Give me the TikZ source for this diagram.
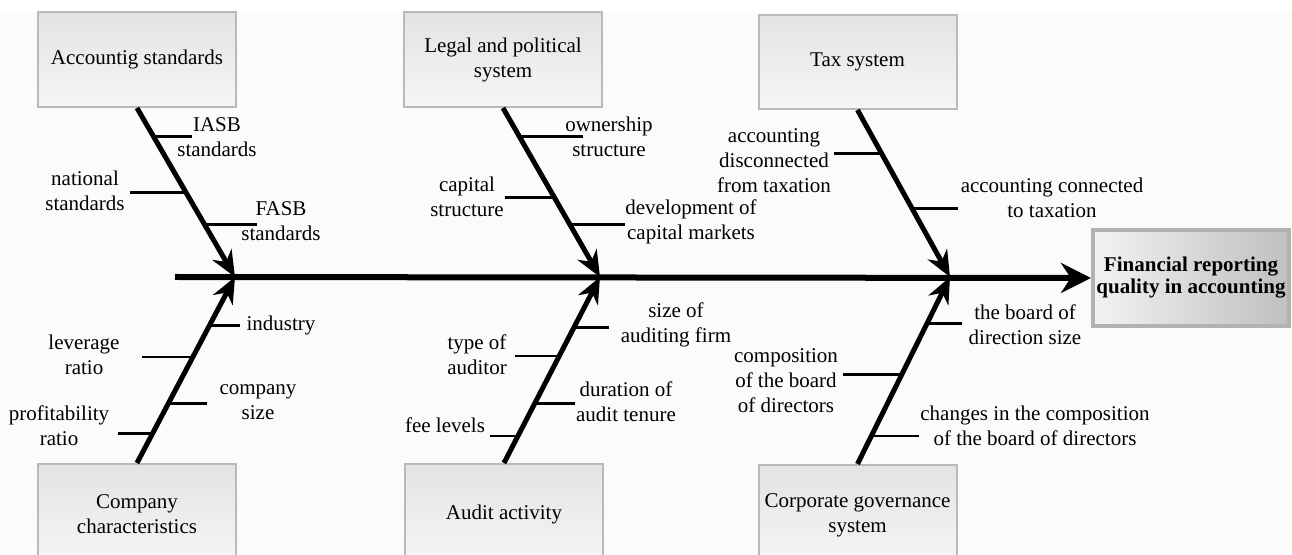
\documentclass[tikz,border=0pt]{standalone}
\usepackage{fontspec}
\setmainfont{Liberation Serif}
\usetikzlibrary{arrows.meta}

\begin{document}
\begin{tikzpicture}[x=0.5pt,y=-0.5pt,
  causebox/.style={draw=gray!55,line width=1pt,top color=gray!22,bottom color=gray!7,
    minimum width=99pt,align=center,inner sep=2pt,font=\fontsize{10.5}{12.5}\selectfont},
  effectbox/.style={draw=gray!60,line width=2pt,left color=gray!10,right color=gray!50,
    minimum width=98pt,minimum height=48pt,align=center,inner sep=1pt,
    font=\fontsize{10.5}{11}\selectfont\bfseries},
  spine/.style={line width=3pt,-{Stealth[length=15pt,width=15pt]}},
  rib/.style={line width=2.5pt,-{Stealth[length=13pt,width=11pt]}},
  bone/.style={line width=1.3pt},
  lbl/.style={align=center,inner sep=0pt,font=\fontsize{10.5}{12.5}\selectfont}]
\useasboundingbox (0,0) rectangle (1292,555);
\clip (0,0) rectangle (1292,555);
\fill[gray!3] (0,12) rectangle (1292,555);

% effect and spine
\node[effectbox] (eff) at (1191,278) {Financial reporting\\quality in accounting};
\coordinate (tail) at (175,277);
\coordinate (j1) at (235,277);
\coordinate (j2) at (600,277);
\coordinate (j3) at (950,277);
\draw[spine] (tail) -- (eff.west);

% causes above
\node[causebox,anchor=south,minimum height=47.5pt] (acc) at (137,108) {Accountig standards};
\node[causebox,anchor=south,minimum height=47.5pt] (leg) at (503,108) {Legal and political\\system};
\node[causebox,anchor=south,minimum height=47pt] (tax) at (857.5,110) {Tax system};
% causes below
\node[causebox,anchor=north,minimum height=50pt] (com) at (137,463) {Company\\characteristics};
\node[causebox,anchor=north,minimum height=50pt] (aud) at (504,463) {Audit activity};
\node[causebox,anchor=north,minimum height=50pt] (gov) at (857.5,464) {Corporate governance\\system};

% ribs
\draw[rib] (acc.south) -- (j1);
\draw[rib] (leg.south) -- (j2);
\draw[rib] (tax.south) -- (j3);
\draw[rib] (com.north) -- (j1);
\draw[rib] (aud.north) -- (j2);
\draw[rib] (gov.north) -- (j3);

% points on the ribs
\path (acc.south) -- (j1) coordinate[pos=.17] (a1) coordinate[pos=.50] (a2) coordinate[pos=.69] (a3);
\path (leg.south) -- (j2) coordinate[pos=.17] (l1) coordinate[pos=.53] (l2) coordinate[pos=.69] (l3);
\path (tax.south) -- (j3) coordinate[pos=.26] (t1) coordinate[pos=.59] (t2);
\path (com.north) -- (j1) coordinate[pos=.74] (c1) coordinate[pos=.57] (c2) coordinate[pos=.32] (c3) coordinate[pos=.16] (c4);
\path (aud.north) -- (j2) coordinate[pos=.73] (u1) coordinate[pos=.575] (u2) coordinate[pos=.32] (u3) coordinate[pos=.145] (u4);
\path (gov.north) -- (j3) coordinate[pos=.75] (g1) coordinate[pos=.48] (g2) coordinate[pos=.15] (g3);

% Accounting standards
\draw[bone] (a1) -- ++(38,0);
\draw[bone] (a2) -- ++(-56,0);
\draw[bone] (a3) -- ++(52,0);
\node[lbl] (iasb) at (217,137) {IASB\\standards};
\node[lbl] (nat) at (85,191) {national\\standards};
\node[lbl] (fasb) at (281,221) {FASB\\standards};

% Legal and political system
\draw[bone] (l1) -- ++(64,0);
\draw[bone] (l2) -- ++(-49,0);
\draw[bone] (l3) -- ++(55,0);
\node[lbl] (own) at (609,137) {ownership\\structure};
\node[lbl] (cap) at (467,197) {capital\\structure};
\node[lbl] (dev) at (691,222) {development of\\capital markets};

% Tax system
\draw[bone] (t1) -- ++(-48,0);
\draw[bone] (t2) -- ++(46,0);
\node[lbl] (disc) at (774,161) {accounting\\disconnected\\from taxation};
\node[lbl] (conn) at (1052,198) {accounting connected\\to taxation};

% Company characteristics
\draw[bone] (c1) -- ++(30,0);
\draw[bone] (c2) -- ++(-51,0);
\draw[bone] (c3) -- ++(39,0);
\draw[bone] (c4) -- ++(-35,0);
\node[lbl] (ind) at (281,325) {industry};
\node[lbl] (lev) at (84,355) {leverage\\ratio};
\node[lbl] (size) at (258,402) {company\\size};
\node[lbl] (prof) at (59,426) {profitability\\ratio};

% Audit activity
\draw[bone] (u1) -- ++(35,0);
\draw[bone] (u2) -- ++(-44,0);
\draw[bone] (u3) -- ++(40,0);
\draw[bone] (u4) -- ++(-28,0);
\node[lbl] (firm) at (676,325) {size of\\auditing firm};
\node[lbl] (type) at (477,355) {type of\\auditor};
\node[lbl] (dur) at (626,402) {duration of\\audit tenure};
\node[lbl] (fee) at (445,425) {fee levels};

% Corporate governance system
\draw[bone] (g1) -- ++(35,0);
\draw[bone] (g2) -- ++(-59,0);
\draw[bone] (g3) -- ++(48,0);
\node[lbl] (bsize) at (1025,325) {the board of\\direction size};
\node[lbl] (cmp) at (786,381) {composition\\of the board\\of directors};
\node[lbl] (chg) at (1035,426) {changes in the composition\\of the board of directors};
\end{tikzpicture}
\end{document}
